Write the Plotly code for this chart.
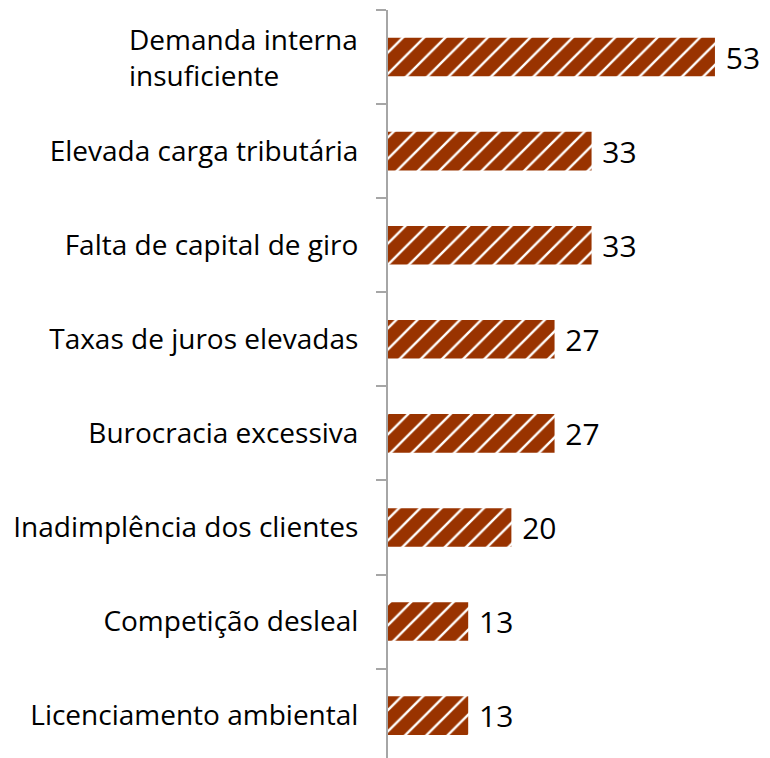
import plotly.graph_objects as go

categories = [
    "Demanda interna insuficiente",
    "Elevada carga tributária",
    "Falta de capital de giro",
    "Taxas de juros elevadas",
    "Burocracia excessiva",
    "Inadimplência dos clientes",
    "Competição desleal",
    "Licenciamento ambiental",
]
values = [53, 33, 33, 27, 27, 20, 13, 13]
tick_labels = [""] + categories[1:]

FONT = "Open Sans"

fig = go.Figure(
    go.Bar(
        x=values,
        y=categories,
        orientation="h",
        marker=dict(
            color="#993300",
            line=dict(width=0),
            pattern=dict(shape="/", fgcolor="white", fgopacity=1, size=15, solidity=0.16),
        ),
        text=[" " + str(v) for v in values],
        textposition="outside",
        constraintext="none",
        cliponaxis=False,
        textfont=dict(family=FONT, size=30, color="black"),
        width=0.41,
    )
)

fig.add_annotation(
    text="Demanda interna<br>insuficiente",
    x=0, xref="paper", xanchor="right", xshift=-28,
    y=categories[0], yref="y", yanchor="middle",
    align="left", showarrow=False,
    font=dict(family=FONT, size=28, color="black"),
)

fig.update_layout(
    width=762, height=750,
    margin=dict(l=380, r=2, t=2, b=0),
    plot_bgcolor="white", paper_bgcolor="white",
    showlegend=False,
    xaxis=dict(range=[0, 61.6], visible=False, fixedrange=True),
    yaxis=dict(
        categoryorder="array", categoryarray=categories,
        tickvals=categories, ticktext=tick_labels,
        range=[7.45, -0.5],
        showline=True, linecolor="#a6a6a6", linewidth=2,
        ticks="outside", tickson="boundaries", ticklen=10, tickcolor="#a6a6a6", tickwidth=2,
        ticklabelstandoff=22,
        tickfont=dict(family=FONT, size=28, color="black"),
        showgrid=False, zeroline=False,
    ),
)

fig.write_html("out.html")
